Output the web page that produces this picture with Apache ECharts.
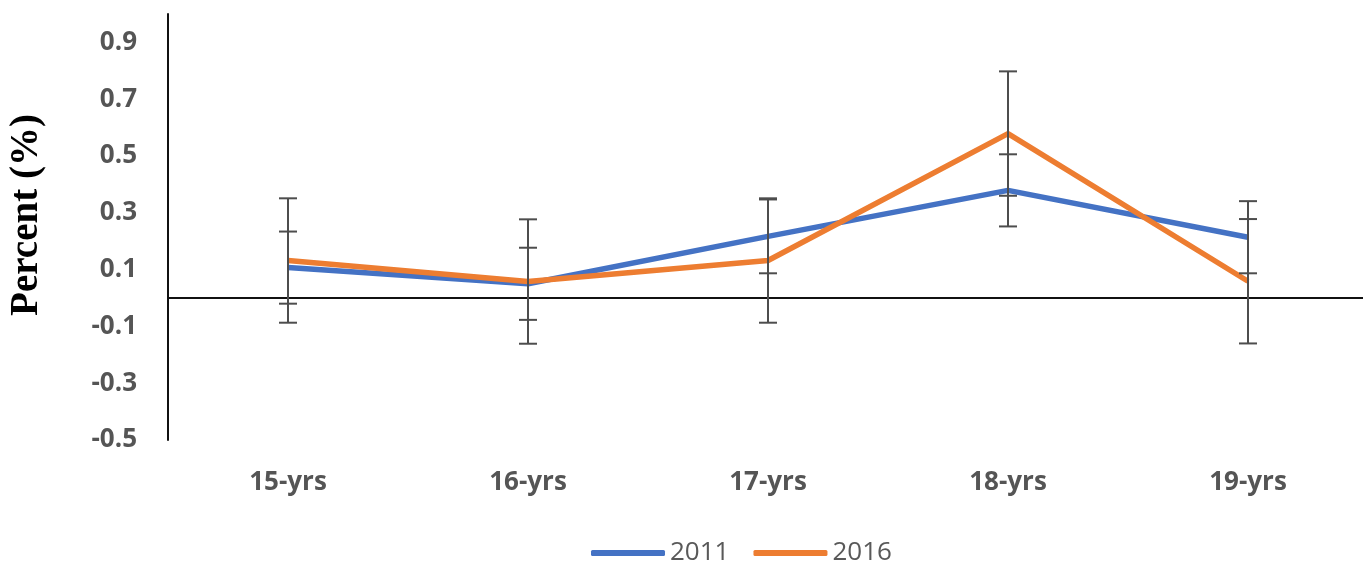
<!DOCTYPE html>
<html>
<head>
<meta charset="utf-8">
<script src="https://cdn.jsdelivr.net/npm/echarts@6/dist/echarts.min.js"></script>
<style>
  html, body { margin: 0; padding: 0; background: #fff; }
  #chart { width: 1363px; height: 563px; }
</style>
</head>
<body>
<div id="chart"></div>
<script>
const categories = ['15-yrs', '16-yrs', '17-yrs', '18-yrs', '19-yrs'];
const values2011 = [0.107, 0.05, 0.217, 0.379, 0.214];
const values2016 = [0.132, 0.058, 0.132, 0.579, 0.059];
const err2011 = [0.127, 0.127, 0.13, 0.127, 0.127];
const err2016 = [0.219, 0.219, 0.219, 0.219, 0.219];
const yTickValues = [-0.5, -0.3, -0.1, 0.1, 0.3, 0.5, 0.7, 0.9];

const chart = echarts.init(document.getElementById('chart'));

function errorData(values, errs) {
  return values.map((v, i) => [i, v - errs[i], v + errs[i]]);
}

function renderError(params, api) {
  const x = api.value(0);
  const lo = api.coord([x, api.value(1)]);
  const hi = api.coord([x, api.value(2)]);
  const half = 9;
  const style = { stroke: '#4d4d4d', lineWidth: 2 };
  return {
    type: 'group',
    children: [
      { type: 'line', shape: { x1: lo[0], y1: lo[1], x2: hi[0], y2: hi[1] }, style: style },
      { type: 'line', shape: { x1: lo[0] - half, y1: lo[1], x2: lo[0] + half, y2: lo[1] }, style: style },
      { type: 'line', shape: { x1: hi[0] - half, y1: hi[1], x2: hi[0] + half, y2: hi[1] }, style: style }
    ]
  };
}

const option = {
  animation: false,
  backgroundColor: '#fff',
  grid: { left: 168, right: -5, top: 14, bottom: 123, containLabel: false, outerBoundsMode: 'none' },
  legend: {
    data: ['2011', '2016'],
    left: 586,
    top: 535,
    icon: 'roundRect',
    itemWidth: 74,
    itemHeight: 6,
    itemGap: 24,
    textStyle: { fontFamily: 'Open Sans', fontSize: 26, color: '#595959' }
  },
  xAxis: [
    {
      type: 'category',
      data: categories,
      boundaryGap: true,
      axisLine: { show: false, onZero: false },
      axisTick: { show: false },
      axisLabel: {
        margin: 30,
        fontFamily: 'Open Sans',
        fontWeight: 'bold',
        fontSize: 26,
        color: '#555'
      },
      splitLine: { show: false }
    },
    {
      type: 'category',
      data: categories,
      position: 'bottom',
      boundaryGap: true,
      axisLine: { show: true, onZero: true, lineStyle: { color: '#111', width: 2 } },
      axisTick: { show: false },
      axisLabel: { show: false },
      splitLine: { show: false }
    }
  ],
  yAxis: {
    type: 'value',
    min: -0.5,
    max: 1.0,
    name: 'Percent (%)',
    nameLocation: 'middle',
    nameGap: 122,
    nameTextStyle: {
      fontFamily: 'Liberation Serif',
      fontWeight: 'bold',
      fontSize: 39,
      color: '#000',
      padding: [0, 0, 0, 24]
    },
    axisLine: { show: true, onZero: false, lineStyle: { color: '#111', width: 2 } },
    axisTick: { show: false },
    splitLine: { show: false },
    axisLabel: {
      customValues: yTickValues,
      margin: 31,
      fontFamily: 'Open Sans',
      fontWeight: 'bold',
      fontSize: 26,
      color: '#555',
      formatter: v => v.toFixed(1)
    }
  },
  series: [
    {
      name: '2011',
      type: 'line',
      data: values2011,
      symbol: 'none',
      color: '#4472C4',
      lineStyle: { width: 5.5, color: '#4472C4' },
      z: 3
    },
    {
      name: '2016',
      type: 'line',
      data: values2016,
      symbol: 'none',
      color: '#ED7D31',
      lineStyle: { width: 5.5, color: '#ED7D31' },
      z: 4
    },
    {
      name: '2011 error',
      type: 'custom',
      renderItem: renderError,
      data: errorData(values2011, err2011),
      z: 5,
      silent: true
    },
    {
      name: '2016 error',
      type: 'custom',
      renderItem: renderError,
      data: errorData(values2016, err2016),
      z: 5,
      silent: true
    }
  ]
};

chart.setOption(option);
</script>
</body>
</html>
